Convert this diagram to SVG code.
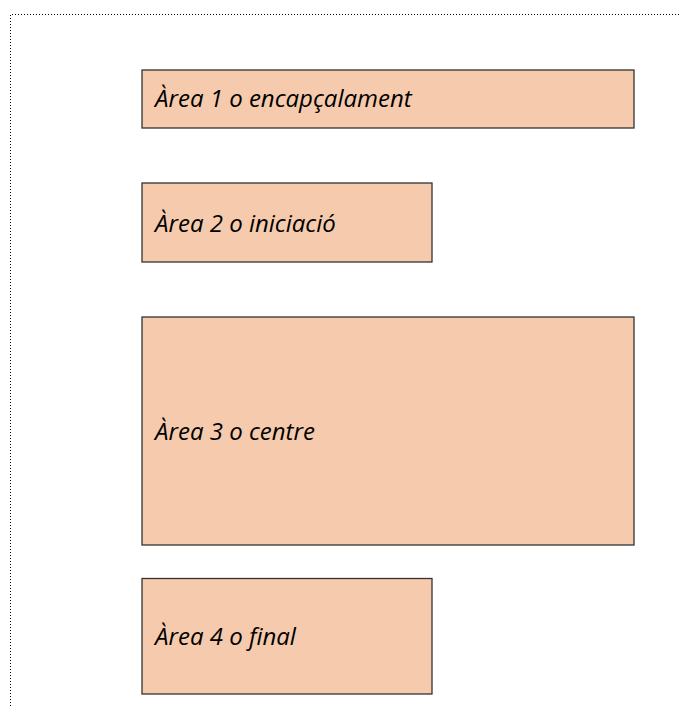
<svg xmlns="http://www.w3.org/2000/svg" width="679" height="706" viewBox="0 0 679 706">
<style>
.box{fill:#f6cbad;stroke:#333;stroke-width:1.3}
.lbl{font-family:"Open Sans",sans-serif;font-style:italic;font-size:24px;fill:#000}
</style>
<rect width="679" height="706" fill="#fff"/>
<path d="M10.5,706 V14.5 H679" fill="none" stroke="#000" stroke-width="1" stroke-dasharray="1,2"/>
<g id="area1"><rect class="box" x="142" y="70" width="492" height="58"/><text class="lbl" x="155" y="107">Àrea 1 o encapçalament</text></g>
<g id="area2"><rect class="box" x="142" y="183" width="290" height="79"/><text class="lbl" x="155" y="232">Àrea 2 o iniciació</text></g>
<g id="area3"><rect class="box" x="142" y="317" width="492" height="228"/><text class="lbl" x="155" y="440">Àrea 3 o centre</text></g>
<g id="area4"><rect class="box" x="142" y="578.5" width="290" height="115.5"/><text class="lbl" x="155" y="644.5">Àrea 4 o final</text></g>
<g id="connectors"/>
</svg>
